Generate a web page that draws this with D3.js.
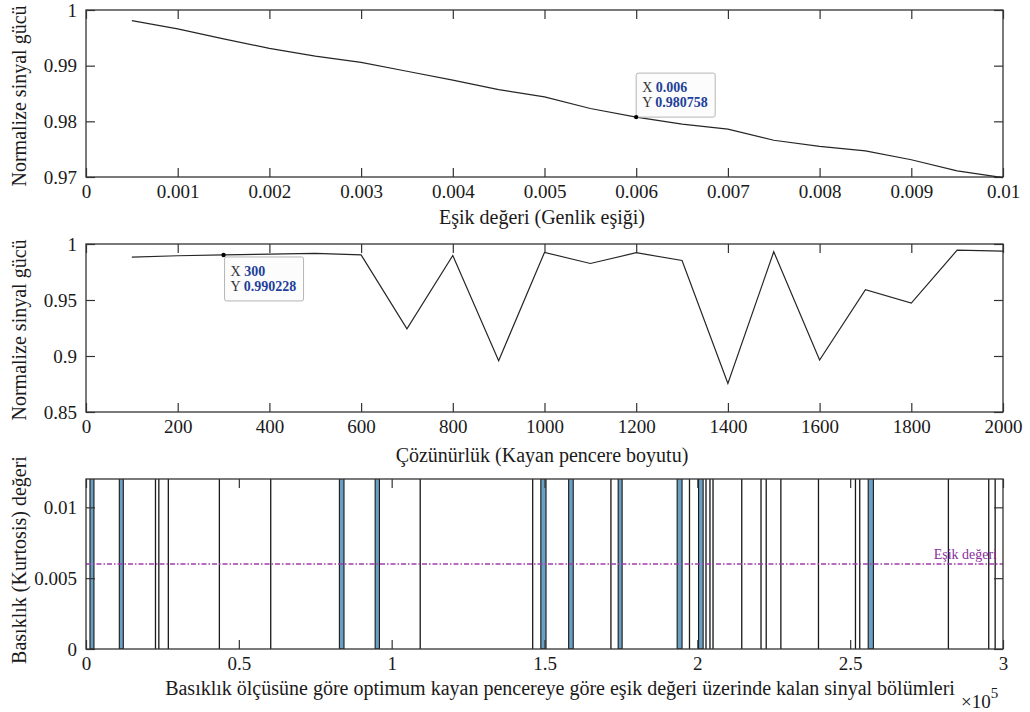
<!DOCTYPE html>
<html>
<head>
<meta charset="utf-8">
<script src="https://cdnjs.cloudflare.com/ajax/libs/d3/7.8.5/d3.min.js"></script>
<style>
    body { margin: 0; background: #ffffff; }
    svg text { font-family: "Liberation Serif", "Times New Roman", serif; fill: #1a1a1a; }
</style>
</head>
<body>
<div id="chart"></div>
<script>

//--- Daten ----------------------------------------------------------------------------------------------- //

// Panel 1: Eşik değeri vs normalize sinyal gücü
var esikX = [0.0005, 0.001, 0.0015, 0.002, 0.0025, 0.003, 0.0035, 0.004, 0.0045, 0.005,
             0.0055, 0.006, 0.0065, 0.007, 0.0075, 0.008, 0.0085, 0.009, 0.0095, 0.01];
var esikGuc = [0.9981, 0.9966, 0.9948, 0.9931, 0.9917, 0.9906, 0.9890, 0.9874, 0.9857, 0.9844,
               0.9823, 0.980758, 0.9795, 0.9786, 0.9766, 0.9755, 0.9747, 0.9731, 0.9711, 0.9699];

// Panel 2: Çözünürlük vs normalize sinyal gücü
var pencereX = [100, 200, 300, 400, 500, 600, 700, 800, 900, 1000,
                1100, 1200, 1300, 1400, 1500, 1600, 1700, 1800, 1900, 2000];
var pencereGuc = [0.9882, 0.9895, 0.990228, 0.9909, 0.9916, 0.9903, 0.9242, 0.9898, 0.8958, 0.9925,
                  0.9826, 0.9922, 0.9853, 0.8755, 0.9931, 0.8964, 0.9593, 0.9473, 0.9945, 0.9936];

// Panel 3: Eşik üzerinde kalan bölümler (başlangıç, bitiş, basıklık)
var bolumBas = [1300, 10900, 22700, 23800, 26900, 43600, 60400, 82900, 94600, 109300,
                146100, 148800, 157900, 171700, 174100, 193400, 197400, 200400, 202800, 204100,
                205100, 214500, 220800, 222500, 227300, 239600, 251700, 253100, 255900, 282100,
                295300, 297400];
var bolumSon = [2600, 12200, 22700, 23800, 26900, 43600, 60400, 84400, 96000, 109300,
                146100, 150500, 159400, 171700, 175400, 195000, 197400, 201900, 202800, 204100,
                205100, 214500, 220800, 222500, 227300, 239600, 251700, 253100, 257600, 282100,
                295300, 297400];
var bolumBasiklik = [0.031, 0.027, 0.018, 0.016, 0.021, 0.019, 0.024, 0.029, 0.033, 0.017,
                     0.02, 0.035, 0.028, 0.019, 0.026, 0.03, 0.016, 0.025, 0.018, 0.022,
                     0.017, 0.02, 0.019, 0.016, 0.021, 0.018, 0.02, 0.017, 0.032, 0.019,
                     0.022, 0.018];
var esikDegeri = 0.006;

// Tick değerleri
var ticks1X = [0, 0.001, 0.002, 0.003, 0.004, 0.005, 0.006, 0.007, 0.008, 0.009, 0.01];
var ticks1Y = [0.97, 0.98, 0.99, 1];
var ticks2X = [0, 200, 400, 600, 800, 1000, 1200, 1400, 1600, 1800, 2000];
var ticks2Y = [0.85, 0.9, 0.95, 1];
var ticks3X = [0, 50000, 100000, 150000, 200000, 250000, 300000];
var ticks3Y = [0, 0.005, 0.01];


//--- Konfiguration --------------------------------------------------------------------------------------- //

var W = 1030, H = 712;
var left = 86, right = 1003;
var tickLen = 9;
var axisColor = '#333333';
var fontSize = 19;
var labelSize = 20;

var svg = d3.select('#chart').append('svg')
    .attr('width', W)
    .attr('height', H);


//--- Achsenrahmen im MATLAB-Stil ------------------------------------------------------------------------- //

function renderFrame(x, y, top, bottom, xTicks, yTicks, xFmt, yFmt) {

    var g = svg.append('g');

    g.append('g').attr('transform', 'translate(0,' + bottom + ')')
        .call(d3.axisBottom(x).tickValues(xTicks).tickSize(-tickLen).tickPadding(8).tickFormat(xFmt));
    g.append('g').attr('transform', 'translate(0,' + top + ')')
        .call(d3.axisTop(x).tickValues(xTicks).tickSize(-tickLen).tickFormat(''));
    g.append('g').attr('transform', 'translate(' + left + ',0)')
        .call(d3.axisLeft(y).tickValues(yTicks).tickSize(-tickLen).tickPadding(9).tickFormat(yFmt));
    g.append('g').attr('transform', 'translate(' + right + ',0)')
        .call(d3.axisRight(y).tickValues(yTicks).tickSize(-tickLen).tickFormat(''));

    g.selectAll('.domain').remove();
    g.selectAll('.tick line').attr('stroke', axisColor).attr('stroke-width', 1.2);
    g.selectAll('.tick text')
        .style('font-family', '"Liberation Serif", "Times New Roman", serif')
        .style('font-size', fontSize + 'px')
        .attr('fill', '#1a1a1a');

    g.append('rect')
        .attr('x', left)
        .attr('y', top)
        .attr('width', right - left)
        .attr('height', bottom - top)
        .attr('fill', 'none')
        .attr('stroke', axisColor)
        .attr('stroke-width', 1.3);

    return g;
}

function axisLabels(xText, xCenter, xY, yText, yCenter) {
    svg.append('text')
        .attr('x', xCenter)
        .attr('y', xY)
        .attr('text-anchor', 'middle')
        .attr('font-size', labelSize + 'px')
        .text(xText);

    svg.append('text')
        .attr('transform', 'translate(26,' + yCenter + ') rotate(-90)')
        .attr('text-anchor', 'middle')
        .attr('font-size', labelSize + 'px')
        .text(yText);
}

function dataTip(px, py, bx, by, xVal, yVal) {
    var g = svg.append('g');
    g.append('rect')
        .attr('x', bx).attr('y', by)
        .attr('width', 79).attr('height', 44)
        .attr('rx', 2)
        .attr('fill', '#fcfcfc')
        .attr('stroke', '#b5b5b5')
        .attr('stroke-width', 1);
    var lines = [['X ', xVal], ['Y ', yVal]];
    lines.forEach(function (l, i) {
        var t = g.append('text')
            .attr('x', bx + 6)
            .attr('y', by + 19 + i * 15)
            .attr('font-size', '14px');
        t.append('tspan').attr('fill', '#333333').text(l[0]);
        t.append('tspan').attr('fill', '#1f3f9a').attr('font-weight', 'bold').text(l[1]);
    });
    g.append('circle')
        .attr('cx', px).attr('cy', py)
        .attr('r', 2.2)
        .attr('fill', '#000000');
}

function trimFmt(d) {
    return String(+d.toFixed(6));
}


//--- Panel 1 --------------------------------------------------------------------------------------------- //

var top1 = 10, bottom1 = 177;
var x1 = d3.scaleLinear().domain([0, 0.01]).range([left, right]);
var y1 = d3.scaleLinear().domain([0.97, 1]).range([bottom1, top1]);

renderFrame(x1, y1, top1, bottom1, ticks1X, ticks1Y, trimFmt, trimFmt);

svg.append('path')
    .datum(d3.zip(esikX, esikGuc))
    .attr('fill', 'none')
    .attr('stroke', '#262626')
    .attr('stroke-width', 1.2)
    .attr('d', d3.line().x(function (d) { return x1(d[0]); }).y(function (d) { return y1(d[1]); }));

axisLabels('Eşik değeri (Genlik eşiği)', 542, 224, 'Normalize sinyal gücü', 96);

dataTip(x1(esikX[11]), y1(esikGuc[11]), x1(esikX[11]), y1(esikGuc[11]) - 44, '0.006', '0.980758');


//--- Panel 2 --------------------------------------------------------------------------------------------- //

var top2 = 244, bottom2 = 412;
var x2 = d3.scaleLinear().domain([0, 2000]).range([left, right]);
var y2 = d3.scaleLinear().domain([0.85, 1]).range([bottom2, top2]);

renderFrame(x2, y2, top2, bottom2, ticks2X, ticks2Y, trimFmt, trimFmt);

svg.append('path')
    .datum(d3.zip(pencereX, pencereGuc))
    .attr('fill', 'none')
    .attr('stroke', '#262626')
    .attr('stroke-width', 1.2)
    .attr('d', d3.line().x(function (d) { return x2(d[0]); }).y(function (d) { return y2(d[1]); }));

axisLabels('Çözünürlük (Kayan pencere boyutu)', 542, 462, 'Normalize sinyal gücü', 330);

dataTip(x2(pencereX[2]), y2(pencereGuc[2]), x2(pencereX[2]) + 1, y2(pencereGuc[2]) + 2, '300', '0.990228');


//--- Panel 3 --------------------------------------------------------------------------------------------- //

var top3 = 479, bottom3 = 649;
var x3 = d3.scaleLinear().domain([0, 300000]).range([left, right]);
var y3 = d3.scaleLinear().domain([0, 0.012]).range([bottom3, top3]);

svg.append('clipPath').attr('id', 'clip3')
    .append('rect')
    .attr('x', left).attr('y', top3)
    .attr('width', right - left).attr('height', bottom3 - top3);

var bars = svg.append('g').attr('clip-path', 'url(#clip3)');

// schmale Bölümler würden als Rechteck mit Breite 0 verschwinden -> minimale Breite
bars.selectAll('rect')
    .data(d3.range(bolumBas.length))
    .enter().append('rect')
    .attr('x', function (i) { return x3(bolumBas[i]); })
    .attr('y', function (i) { return y3(bolumBasiklik[i]); })
    .attr('width', function (i) { return Math.max(x3(bolumSon[i]) - x3(bolumBas[i]), 0.2); })
    .attr('height', function (i) { return y3(0) - y3(bolumBasiklik[i]); })
    .attr('fill', '#6a9fc4')
    .attr('stroke', '#1a1a1a')
    .attr('stroke-width', 1.1);

svg.append('line')
    .attr('x1', left).attr('x2', right)
    .attr('y1', y3(esikDegeri)).attr('y2', y3(esikDegeri))
    .attr('stroke', '#a03cae')
    .attr('stroke-width', 1.3)
    .attr('stroke-dasharray', '5,2,1.5,2');

svg.append('text')
    .attr('x', right - 6)
    .attr('y', y3(esikDegeri) - 5)
    .attr('text-anchor', 'end')
    .attr('font-size', '14px')
    .style('fill', '#8a2f9a')
    .text('Eşik değeri');

renderFrame(x3, y3, top3, bottom3, ticks3X, ticks3Y,
    function (d) { return String(d / 100000); }, trimFmt);

axisLabels('Basıklık ölçüsüne göre optimum kayan pencereye göre eşik değeri üzerinde kalan sinyal bölümleri',
    560, 695, 'Basıklık (Kurtosis) değeri', 560);

var expo = svg.append('text')
    .attr('x', 961)
    .attr('y', 708)
    .attr('font-size', '19px');
expo.append('tspan').text('×10');
expo.append('tspan').attr('dy', -10).attr('font-size', '15px').text('5');

</script>
</body>
</html>
